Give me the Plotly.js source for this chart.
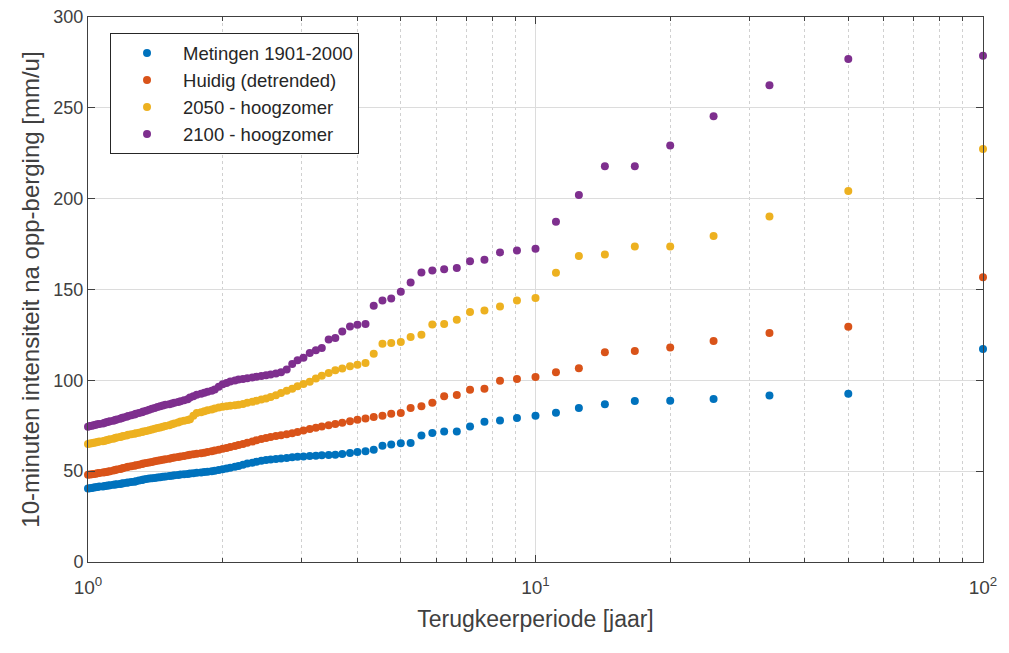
<!DOCTYPE html>
<html>
<head>
<meta charset="utf-8">
<script src="https://cdn.plot.ly/plotly-3.0.1.min.js"></script>
<style>html,body{margin:0;padding:0;background:#fff;}#chart{width:1009px;height:653px;}</style>
</head>
<body>
<div id="chart"></div>
<script>
// Return period [years], rank 1..100
const returnPeriods = [100, 50, 33.33, 25, 20, 16.67, 14.29, 12.5, 11.11, 10,
  9.09, 8.33, 7.69, 7.14, 6.67, 6.25, 5.88, 5.56, 5.26, 5,
  4.76, 4.55, 4.35, 4.17, 4, 3.85, 3.70, 3.57, 3.45, 3.33,
  3.23, 3.13, 3.03, 2.94, 2.86, 2.78, 2.70, 2.63, 2.56, 2.5,
  2.44, 2.38, 2.33, 2.27, 2.22, 2.17, 2.13, 2.08, 2.04, 2,
  1.96, 1.92, 1.89, 1.85, 1.82, 1.79, 1.75, 1.72, 1.69, 1.67,
  1.64, 1.61, 1.59, 1.56, 1.54, 1.52, 1.49, 1.47, 1.45, 1.43,
  1.41, 1.39, 1.37, 1.35, 1.33, 1.32, 1.30, 1.28, 1.27, 1.25,
  1.23, 1.22, 1.20, 1.19, 1.18, 1.16, 1.15, 1.14, 1.12, 1.11,
  1.10, 1.09, 1.08, 1.06, 1.05, 1.04, 1.03, 1.02, 1.01, 1.00];

const metingen = [117.2, 92.6, 91.7, 89.7, 88.8, 88.6, 86.8, 84.8, 82.2, 80.5,
  79.2, 77.9, 77.2, 74.6, 71.9, 71.9, 71.0, 69.7, 65.5, 65.3,
  64.7, 64.0, 61.8, 60.9, 60.5, 60.0, 59.5, 59.1, 58.9, 58.7,
  58.5, 58.3, 58.1, 57.9, 57.6, 57.3, 57.0, 56.7, 56.4, 56.1,
  55.7, 55.2, 54.7, 54.2, 53.5, 52.9, 52.4, 51.9, 51.4, 51.0,
  50.6, 50.2, 49.9, 49.7, 49.5, 49.3, 49.1, 48.9, 48.7, 48.5,
  48.3, 48.1, 47.9, 47.7, 47.5, 47.3, 47.1, 46.9, 46.7, 46.5,
  46.3, 46.1, 45.9, 45.7, 45.4, 45.1, 44.8, 44.4, 44.2, 44.0,
  43.8, 43.6, 43.4, 43.2, 43.0, 42.8, 42.6, 42.5, 42.3, 42.1,
  42.0, 41.8, 41.6, 41.5, 41.3, 41.1, 41.0, 40.8, 40.6, 40.5];

const huidig = [156.7, 129.5, 126.0, 121.6, 118.1, 116.1, 115.4, 106.6, 104.4, 101.8,
  100.7, 99.8, 95.4, 94.8, 91.9, 91.2, 87.7, 85.7, 84.8, 82.0,
  81.6, 80.5, 79.8, 79.0, 78.3, 77.5, 76.7, 76.0, 75.3, 74.6,
  73.9, 73.2, 72.4, 71.6, 70.9, 70.3, 69.8, 69.3, 68.8, 68.3,
  67.7, 67.0, 66.3, 65.6, 65.0, 64.4, 63.8, 63.3, 62.8, 62.3,
  61.8, 61.4, 61.0, 60.6, 60.2, 59.9, 59.6, 59.3, 59.0, 58.7,
  58.4, 58.1, 57.8, 57.5, 57.2, 56.9, 56.6, 56.3, 56.0, 55.7,
  55.4, 55.1, 54.8, 54.5, 54.2, 53.9, 53.6, 53.3, 53.0, 52.7,
  52.4, 52.1, 51.8, 51.5, 51.2, 50.9, 50.6, 50.3, 50.0, 49.8,
  49.6, 49.4, 49.2, 49.0, 48.8, 48.6, 48.4, 48.3, 48.1, 48.0];

const zomer2050 = [227.3, 204.2, 190.2, 179.4, 173.7, 173.7, 169.2, 168.4, 159.2, 145.3,
  144.0, 140.7, 138.5, 137.6, 133.4, 131.0, 130.8, 125.1, 123.8, 121.1,
  120.5, 120.2, 114.7, 109.6, 108.6, 107.8, 106.5, 105.5, 104.0, 102.5,
  101.0, 99.2, 98.0, 96.8, 95.4, 94.2, 93.0, 91.8, 90.8, 90.0,
  89.4, 88.8, 88.2, 87.6, 87.0, 86.6, 86.3, 86.0, 85.7, 85.4,
  85.0, 84.5, 84.0, 83.5, 83.0, 82.5, 82.0, 80.5, 78.6, 78.2,
  77.8, 77.3, 76.8, 76.3, 75.8, 75.3, 74.9, 74.5, 74.1, 73.7,
  73.3, 72.9, 72.5, 72.1, 71.8, 71.5, 71.2, 70.9, 70.6, 70.3,
  70.0, 69.7, 69.4, 69.1, 68.8, 68.5, 68.2, 67.9, 67.6, 67.3,
  67.0, 66.8, 66.5, 66.3, 66.0, 65.8, 65.6, 65.4, 65.2, 65.0];

const zomer2100 = [278.7, 276.9, 262.4, 245.3, 229.2, 217.8, 217.8, 202.0, 187.3, 172.5,
  171.5, 170.4, 166.4, 165.5, 161.8, 161.1, 160.5, 159.4, 153.9, 148.8,
  145.1, 144.0, 141.1, 131.0, 130.6, 129.7, 126.9, 123.3, 122.5, 117.8,
  116.5, 115.0, 112.5, 111.0, 109.0, 106.0, 104.4, 103.7, 103.2, 102.8,
  102.4, 102.0, 101.6, 101.2, 100.8, 100.4, 99.9, 99.3, 98.6, 97.8,
  96.5, 95.0, 94.3, 93.7, 93.1, 92.6, 92.1, 91.3, 90.5, 89.6,
  89.0, 88.5, 88.1, 87.7, 87.3, 86.9, 86.5, 86.1, 85.7, 85.3,
  84.8, 84.3, 83.8, 83.3, 82.8, 82.4, 82.0, 81.6, 81.2, 80.8,
  80.4, 80.0, 79.6, 79.2, 78.8, 78.4, 78.1, 77.8, 77.5, 77.2,
  76.9, 76.6, 76.3, 76.0, 75.8, 75.5, 75.3, 75.0, 74.8, 74.5];

const seriesNames = ['Metingen 1901-2000', 'Huidig (detrended)', '2050 - hoogzomer', '2100 - hoogzomer'];
const seriesValues = [metingen, huidig, zomer2050, zomer2100];
const seriesColors = ['#0072BD', '#D95319', '#EDB120', '#7E2F8E'];

const xTickVals = [1, 10, 100];
const xTickText = ['10<sup>0</sup>', '10<sup>1</sup>', '10<sup>2</sup>'];

const FONT = 'Liberation Sans, Arial, Helvetica, sans-serif';
const AXC = '#404040';

const traces = seriesNames.map((name, i) => ({
  type: 'scatter', mode: 'markers', name: name,
  x: returnPeriods, y: seriesValues[i],
  marker: {color: seriesColors[i], size: 8},
  cliponaxis: false
}));

const layout = {
  width: 1009, height: 653,
  margin: {l: 88, r: 26, t: 17, b: 91},
  paper_bgcolor: '#fff', plot_bgcolor: '#fff',
  font: {family: FONT, size: 18, color: AXC},
  showlegend: true,
  legend: {
    x: 0.0246, y: 0.97, xanchor: 'left', yanchor: 'top',
    bgcolor: '#fff', bordercolor: '#262626', borderwidth: 1,
    font: {family: FONT, size: 18.5, color: '#262626'},
    itemwidth: 62, tracegroupgap: 0
  },
  xaxis: {
    type: 'log', range: [0, 2],
    tickvals: xTickVals, ticktext: xTickText,
    ticks: 'inside', ticklen: 7, tickcolor: AXC,
    showline: true, linecolor: AXC, linewidth: 1, mirror: 'allticks',
    showgrid: true, gridcolor: '#dcdcdc', gridwidth: 1,
    zeroline: false,
    ticklabelstandoff: 8,
    tickfont: {family: FONT, size: 19, color: AXC},
    minor: {dtick: 'D1', ticks: 'inside', ticklen: 4, tickcolor: AXC,
            showgrid: true, gridcolor: '#d0d0d0', griddash: 'dot', gridwidth: 1},
    title: {text: 'Terugkeerperiode [jaar]', font: {family: FONT, size: 23, color: AXC}, standoff: 14}
  },
  yaxis: {
    range: [0, 300], dtick: 50,
    ticks: 'inside', ticklen: 7, tickcolor: AXC,
    showline: true, linecolor: AXC, linewidth: 1, mirror: 'allticks',
    showgrid: true, gridcolor: '#dcdcdc', gridwidth: 1,
    zeroline: false,
    tickfont: {family: FONT, size: 18, color: AXC},
    title: {text: '10-minuten intensiteit na opp-berging [mm/u]', font: {family: FONT, size: 24, color: AXC}, standoff: 6}
  }
};

Plotly.newPlot('chart', traces, layout, {staticPlot: true, displayModeBar: false});
</script>
</body>
</html>
